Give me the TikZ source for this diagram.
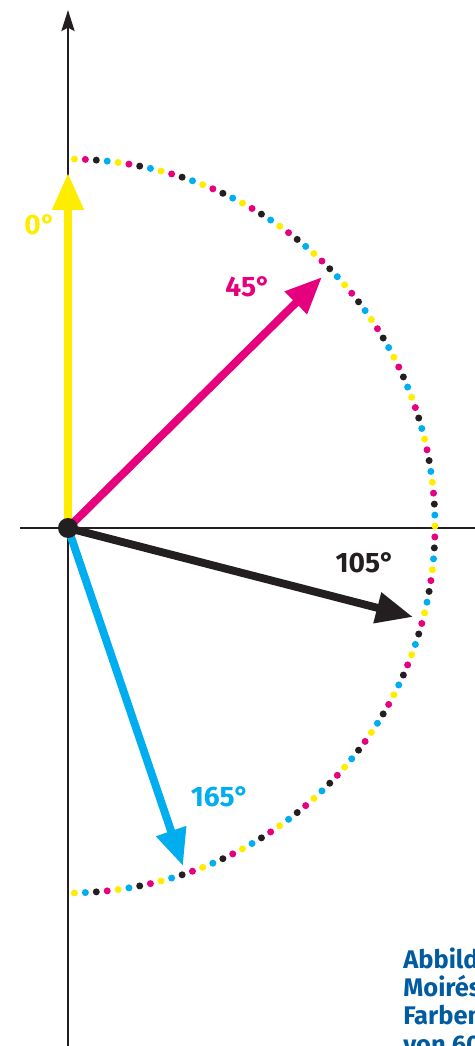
\documentclass[tikz,border=0pt]{standalone}
\usepackage{fontspec}
\setmainfont{Fira Sans}
\usetikzlibrary{arrows.meta}
\definecolor{cmyY}{RGB}{255,237,0}
\definecolor{cmyM}{RGB}{230,0,126}
\definecolor{cmyC}{RGB}{0,174,239}
\definecolor{cmyK}{RGB}{35,31,32}
\definecolor{capblue}{RGB}{0,91,160}
\tikzset{
  axis/.style={cmyK, line width=1.2pt},
  vec/.style={line width=4.5pt, -{Triangle[length=21pt,width=17pt]}},
  anglbl/.style={font=\bfseries\fontsize{16}{16}\selectfont},
}

\begin{document}
\begin{tikzpicture}[x=0.02cm,y=0.02cm]
\useasboundingbox (-68,-518) rectangle (407,528);
% axes
\coordinate (O) at (0,0);
\coordinate (ybot) at (0,-518);
\coordinate (ytop) at (0,518);
\coordinate (xl) at (-48,0);
\coordinate (xr) at (407,0);
\draw[axis] (xl) -- (xr);
\draw[axis, -{Stealth[length=12pt,width=7.5pt,inset=2pt]}] (ybot) -- (ytop);
% dotted half circle, colours Y M K C in turn
\foreach \i in {0,...,104} {
  \pgfmathsetmacro{\ang}{89-\i*1.71154}
  \pgfmathsetmacro{\dx}{367*cos(\ang)}
  \pgfmathsetmacro{\dy}{2+367*sin(\ang)}
  \pgfmathtruncatemacro{\ci}{mod(\i,4)}
  \ifcase\ci\relax \def\dotcol{cmyY}\or \def\dotcol{cmyM}\or \def\dotcol{cmyK}\or \def\dotcol{cmyC}\fi
  \fill[\dotcol] (\dx,\dy) circle [radius=0.07cm];
}
% screen angles
\coordinate (t0) at (0,355);
\coordinate (t45) at (254,251);
\coordinate (t105) at (345,-89);
\coordinate (t165) at (115,-338);
\draw[vec, cmyY] (O) -- (t0);
\draw[vec, cmyM] (O) -- (t45);
\draw[vec, cmyK] (O) -- (t105);
\draw[vec, cmyC] (O) -- (t165);
\node[circle, fill=cmyK, minimum size=0.4cm, inner sep=0] (Odot) at (O) {};
\node[anglbl, cmyY] (l0) at (-28,303) {0°};
\node[anglbl, cmyM] (l45) at (180,241) {45°};
\node[anglbl, cmyK] (l105) at (297,-35) {105°};
\node[anglbl, cmyC] (l165) at (152,-269) {165°};
% caption, cut by the page edge
\node[font=\bfseries\fontsize{14.5}{16.2}\selectfont, text=capblue, align=left, anchor=north west, inner sep=0] (cap) at (335,-419) {Abbildung\\Moirés\\Farben\\von 60°};
\end{tikzpicture}
\end{document}
